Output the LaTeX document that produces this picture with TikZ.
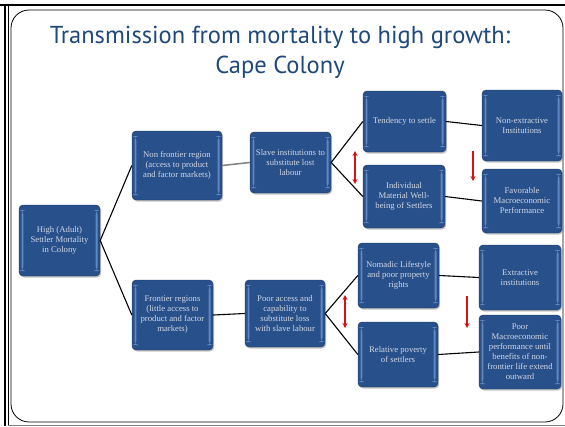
\documentclass[tikz,border=0pt]{standalone}
\usepackage{fontspec}
\setmainfont{Liberation Serif}
\newfontfamily\titlefont{PT Sans}
\usetikzlibrary{shadows,arrows.meta}
\definecolor{boxfill}{RGB}{40,80,138}
\definecolor{boxedge}{RGB}{28,55,95}
\definecolor{stripc}{RGB}{95,135,195}
\definecolor{titleblue}{RGB}{31,73,125}
\definecolor{boxtext}{RGB}{210,215,228}
\definecolor{redarrow}{RGB}{210,20,20}
\tikzset{
  box/.style={draw=boxedge, fill=boxfill, rounded corners=4pt, text=boxtext,
    font=\fontsize{8.7}{10}\selectfont, align=center, inner sep=1pt,
    drop shadow={shadow xshift=1.2pt, shadow yshift=-1.5pt, opacity=0.45},
    path picture={
      \fill[stripc] ([xshift=2.5pt,yshift=-5pt]path picture bounding box.north west) rectangle ([xshift=4.3pt,yshift=5pt]path picture bounding box.south west);
      \fill[stripc] ([xshift=-4.3pt,yshift=-5pt]path picture bounding box.north east) rectangle ([xshift=-2.5pt,yshift=5pt]path picture bounding box.south east);
    }},
  link/.style={draw=black, line width=1.1pt},
  graylink/.style={draw=gray, line width=1.5pt},
  redarr/.style={draw=redarrow, line width=1.3pt, >={Stealth[length=5pt,width=5pt]}},
}
\begin{document}
\begin{tikzpicture}[x=1pt,y=-1pt]
\useasboundingbox (0,0) rectangle (565,426);
% frame
\draw[line width=2pt] (0,5) -- (565,5);
\draw[line width=2pt] (5,4) -- (5,426);
\draw[line width=0.8pt] (8,6) -- (8,426);
\draw[gray, line width=1pt] (8,425) -- (565,425);
\draw[line width=0.8pt, rounded corners=18pt] (11,10) rectangle (563,422);
% title
\node[font=\titlefont\fontsize{24.5}{30}\selectfont, text=titleblue, align=center] (title) at (280,52) {Transmission from mortality to high growth:\\Cape Colony};
% boxes
\node[box, minimum width=81pt, minimum height=71pt] (A) at (59.5,240.5) {High (Adult)\\Settler Mortality\\in Colony};
\node[box, minimum width=90pt, minimum height=69pt] (B) at (177,165.5) {Non frontier region\\(access to product\\and factor markets)};
\node[box, minimum width=81pt, minimum height=61pt] (C) at (290.5,162.5) {Slave institutions to\\substitute lost\\labour};
\node[box, minimum width=83pt, minimum height=61pt] (D) at (404.5,121.5) {Tendency to settle};
\node[box, minimum width=82pt, minimum height=63pt] (E) at (404,196.5) {Individual\\Material Well-\\being of Settlers};
\node[box, minimum width=80pt, minimum height=71pt] (F) at (522,125.5) {Non-extractive\\Institutions};
\node[box, minimum width=80pt, minimum height=64pt] (G) at (522,201) {Favorable\\Macroeconomic\\Performance};
\node[box, minimum width=81pt, minimum height=70pt] (H) at (172.5,315) {Frontier regions\\(little access to\\product and factor\\markets)};
\node[box, minimum width=80pt, minimum height=67pt] (I) at (285,313.5) {Poor access and\\capability to\\substitute loss\\with slave labour};
\node[box, minimum width=81pt, minimum height=65pt] (J) at (398.5,275.5) {Nomadic Lifestyle\\and poor property\\rights};
\node[box, minimum width=80pt, minimum height=65pt] (K) at (398,354.5) {Relative poverty\\of settlers};
\node[box, minimum width=82pt, minimum height=65pt] (L) at (520,277.5) {Extractive\\institutions};
\node[box, minimum width=82pt, minimum height=74pt] (M) at (520,352) {Poor\\Macroeconomic\\performance until\\benefits of non-\\frontier life extend\\outward};
% connectors
\draw[link] (A.east) -- (B.west);
\draw[link] (A.east) -- (H.west);
\draw[graylink] (B.east) -- (C.west);
\draw[link] (C.east) -- (D.west);
\draw[link] (C.east) -- (E.west);
\draw[link] (D.east) -- (F.west);
\draw[link] (E.east) -- (G.west);
\draw[link] (H.east) -- (I.west);
\draw[link] (I.east) -- (J.west);
\draw[link] (I.east) -- (K.west);
\draw[link] (J.east) -- (L.west);
\draw[link] (K.east) -- (M.west);
% red arrows
\coordinate (r1a) at (355,151); \coordinate (r1b) at (355,184);
\coordinate (r2a) at (473,151); \coordinate (r2b) at (473,181);
\coordinate (r3a) at (345,295); \coordinate (r3b) at (345,328);
\coordinate (r4a) at (467,296); \coordinate (r4b) at (467,328);
\draw[redarr, <->] (r1a) -- (r1b);
\draw[redarr, ->] (r2a) -- (r2b);
\draw[redarr, <->] (r3a) -- (r3b);
\draw[redarr, ->] (r4a) -- (r4b);
\end{tikzpicture}
\end{document}
